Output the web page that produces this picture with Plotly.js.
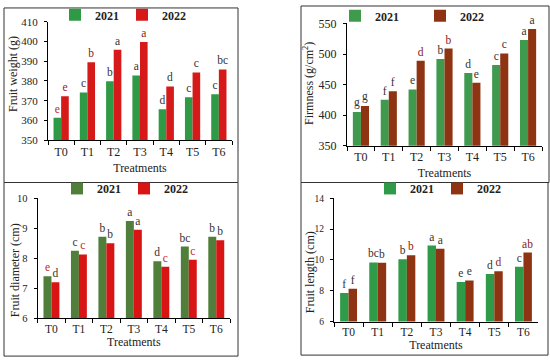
<!DOCTYPE html>
<html>
<head>
<meta charset="utf-8">
<script src="https://cdn.plot.ly/plotly-3.0.1.min.js"></script>
<style>html,body{margin:0;padding:0;background:#fff}#chart{width:550px;height:362px}</style>
</head>
<body>
<div id="chart"></div>
<script>
var treatments = ["T0","T1","T2","T3","T4","T5","T6"];
var seriesNames = ["2021","2022"];

var weight2021 = [361.3, 374.2, 379.8, 382.8, 365.7, 371.7, 373.2];
var weight2022 = [372.3, 389.5, 395.8, 399.7, 377.2, 384.3, 385.8];
var weightLet2021 = ["e","c","b","a","d","c","c"];
var weightLet2022 = ["e","b","a","a","d","c","bc"];

var firm2021 = [405, 425, 442, 492, 469, 482, 523];
var firm2022 = [415, 439, 489, 509, 453, 501, 541];
var firmLet2021 = ["g","f","e","b","d","c","a"];
var firmLet2022 = ["g","f","d","b","e","c","a"];

var diam2021 = [7.40, 8.25, 8.72, 9.24, 7.90, 8.39, 8.72];
var diam2022 = [7.20, 8.13, 8.50, 8.95, 7.72, 7.95, 8.60];
var diamLet2021 = ["e","c","b","a","d","bc","b"];
var diamLet2022 = ["d","c","b","a","c","c","b"];

var len2021 = [7.85, 9.84, 10.05, 10.93, 8.56, 9.09, 9.56];
var len2022 = [8.13, 9.82, 10.31, 10.73, 8.67, 9.26, 10.48];
var lenLet2021 = ["f","bc","b","a","e","d","c"];
var lenLet2022 = ["f","b","b","a","e","d","ab"];

var yTitles = ["Fruit weight (g)", "Firmness (g/cm<sup>2</sup>)", "Fruit diameter (cm)", "Fruit length (cm)"];

var serif = "Liberation Serif, Times New Roman, serif";
var W = 550, H = 362;
function px(x){return x/W;}
function py(y){return 1 - y/H;}

var panels = [
  {ax:"", v:[weight2021, weight2022], l:[weightLet2021, weightLet2022],
   col:["#2f9a45","#d61a1a"], lcol:[["#c0282a","#333","#333","#333","#333","#333","#333"],["#a0201e","#8a2020","#333","#8a2020","#333","#333","#333"]]},
  {ax:"2", v:[firm2021, firm2022], l:[firmLet2021, firmLet2022],
   col:["#3f9a4e","#8e3412"], lcol:[["#333","#333","#333","#333","#333","#333","#333"],["#333","#333","#8a2020","#8a2020","#333","#333","#333"]]},
  {ax:"3", v:[diam2021, diam2022], l:[diamLet2021, diamLet2022],
   col:["#4f7f3a","#d81414"], lcol:[["#c0282a","#333","#333","#333","#333","#333","#333"],["#333","#c0282a","#333","#333","#c0282a","#c0282a","#333"]]},
  {ax:"4", v:[len2021, len2022], l:[lenLet2021, lenLet2022],
   col:["#2f9a48","#8e3412"], lcol:[["#333","#333","#333","#333","#333","#333","#333"],["#333","#333","#8a2020","#333","#333","#8a2020","#8a2020"]]}
];

var traces = [];
panels.forEach(function(p, i){
  for (var s = 0; s < 2; s++) {
    traces.push({
      type: "bar",
      name: seriesNames[s],
      x: treatments,
      y: p.v[s],
      text: p.l[s],
      textposition: "outside",
      textangle: 0,
      constraintext: "none",
      cliponaxis: false,
      textfont: {family: serif, size: 11.5, color: p.lcol[s]},
      marker: {color: p.col[s]},
      xaxis: "x" + p.ax,
      yaxis: "y" + p.ax,
      legend: i === 0 ? "legend" : "legend" + (i + 1),
      hoverinfo: "x+y"
    });
  }
});

function xax(d, anchor, standoff, fs){
  return {domain: d, anchor: anchor, showline: true, linecolor: "#000", linewidth: 1,
    ticks: "outside", ticklen: 4, tickcolor: "#000", tickson: "boundaries",
    tickfont: {family: serif, size: fs, color: "#222"},
    title: {text: "Treatments", font: {family: serif, size: 12, color: "#222"}, standoff: standoff},
    showgrid: false, zeroline: false, fixedrange: true};
}
function yax(d, anchor, range, dtick, fs){
  return {domain: d, anchor: anchor, range: range, dtick: dtick, showline: true, linecolor: "#000", linewidth: 1,
    ticks: "outside", ticklen: 3, tickcolor: "#000", ticklabelstandoff: 4,
    tickfont: {family: serif, size: fs, color: "#222"},
    showgrid: false, zeroline: false, fixedrange: true};
}

function leg(x, y, ew){
  return {orientation: "h", x: px(x), y: py(y), xanchor: "left", yanchor: "middle",
    font: {family: serif, size: 12, color: "#222", weight: "bold"},
    bgcolor: "rgba(0,0,0,0)", itemwidth: 30, entrywidth: ew, entrywidthmode: "pixels",
    itemclick: false, itemdoubleclick: false, tracegroupgap: 0};
}

var box = function(x0,y0,x1,y1){
  return {type:"rect", xref:"paper", yref:"paper", x0:px(x0), x1:px(x1), y0:py(y0), y1:py(y1),
    line:{color:"#333", width:1}, fillcolor:"rgba(0,0,0,0)", layer:"below"};
};

var yTitlePos = [[13, 70], [309, 80], [15, 269], [310, 271]];
var annotations = yTitles.map(function(t, i){
  return {text: t, xref: "paper", yref: "paper", x: px(yTitlePos[i][0]), y: py(yTitlePos[i][1]),
    xanchor: "center", yanchor: "middle", textangle: -90, showarrow: false,
    font: {family: serif, size: 12, color: "#222"}};
});

var layout = {
  width: W, height: H,
  margin: {l:0, r:0, t:0, b:0},
  paper_bgcolor: "#fff", plot_bgcolor: "rgba(0,0,0,0)",
  barmode: "group", bargap: 0.42, bargroupgap: 0,
  showlegend: true,
  xaxis: xax([px(48), px(232)], "y", 6, 12),
  yaxis: yax([py(137), py(17)], "x", [350, 410], 10, 11),
  xaxis2: xax([px(347), px(542)], "y2", 5, 12),
  yaxis2: yax([py(142.7), py(18.7)], "x2", [350, 550], 50, 12),
  xaxis3: xax([px(37.7), px(230)], "y3", 3, 11.5),
  yaxis3: yax([py(317.7), py(196)], "x3", [6, 10], 1, 10.5),
  xaxis4: xax([px(334), px(538)], "y4", 2, 11.5),
  yaxis4: yax([py(321), py(196)], "x4", [6, 14], 2, 9.5),
  legend: leg(55, 10, 22),
  legend2: leg(335, 11, 40),
  legend3: leg(57, 186, 22),
  legend4: leg(370, 186, 22),
  annotations: annotations,
  shapes: [box(4, 3, 238, 180), box(301, 1, 549, 180), box(4, 180, 238, 356), box(301, 180, 548, 355)]
};

Plotly.newPlot("chart", traces, layout, {displayModeBar: false, staticPlot: true});
</script>
</body>
</html>
